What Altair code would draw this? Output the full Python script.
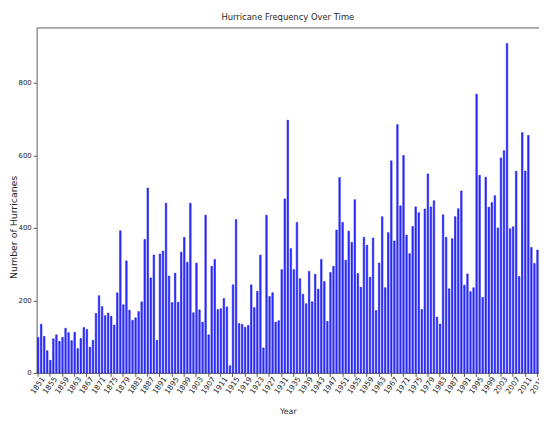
import altair as alt
import pandas as pd

years = list(range(1851, 2016))
counts = [
    98, 134, 101, 61, 35, 94, 105, 87, 98, 123, 111, 89, 112, 67, 95, 125, 120, 71, 90, 164,
    213, 183, 158, 165, 156, 132, 221, 392,
    188, 309, 173, 145, 152, 169, 196, 368, 510, 262, 325, 90, 328, 336, 468, 267, 194, 275,
    195, 333, 374, 305, 468, 166, 303, 174, 140, 435,
    105, 294, 313, 175, 177, 205, 182, 20, 243, 423, 136, 134, 126, 131, 243, 180, 225, 325,
    69, 435, 211, 221, 140, 144, 285, 480, 697,
    343, 285, 415, 260, 217, 191, 280, 196, 272, 231, 313, 252, 142, 277, 294, 394, 539, 415,
    311, 391, 360, 478, 274, 236, 374, 352, 264, 372,
    172, 303, 431, 235, 387, 585, 364, 685, 461, 600, 380, 329, 404, 458, 442, 175, 452, 549,
    458, 475, 154, 135, 436, 374, 232, 370, 431, 453,
    502, 242, 273, 224, 235, 769, 545, 208, 540, 457, 470, 489, 400, 593, 613, 909, 398, 403,
    556, 266, 663, 557, 655, 346, 302, 339,
]
tick_years = list(range(1851, 2016, 4))
y_ticks = [0, 200, 400, 600, 800]

df = pd.DataFrame({"Year": years, "Hurricanes": counts})

text_color = "#262626"
frame_color = "#5a5a5a"

chart = alt.Chart(df).mark_bar(
    fill="#3535ff", stroke="#0000e8", strokeWidth=0.5
).encode(
    x=alt.X(
        "Year:O",
        sort="ascending",
        scale=alt.Scale(paddingInner=0.5, paddingOuter=0.25),
        axis=alt.Axis(
            values=tick_years,
            labelAngle=-55,
            labelAlign="center",
            labelBaseline="middle",
            labelPadding=9,
            labelFontSize=7.5,
            labelColor=text_color,
            labelOverlap=False,
            tickSize=3.5,
            tickColor=frame_color,
            domain=False,
            title="Year",
            titleFontSize=8,
            titleFontWeight="normal",
            titleColor=text_color,
            titleY=39,
            titleBaseline="middle",
        ),
    ),
    y=alt.Y(
        "Hurricanes:Q",
        scale=alt.Scale(domain=[0, 953], nice=False, zero=True),
        axis=alt.Axis(
            values=y_ticks,
            grid=False,
            domain=False,
            tickSize=3.5,
            tickColor=frame_color,
            labelFontSize=7,
            labelColor=text_color,
            labelPadding=2,
            title="Number of Hurricanes",
            titleFontSize=9.5,
            titleFontWeight="normal",
            titleColor=text_color,
            titleX=-23,
            titleY=202,
            titleAlign="center",
            titleBaseline="middle",
        ),
    ),
).properties(
    width=509,
    height=350,
    title=alt.TitleParams(
        text="Hurricane Frequency Over Time",
        fontSize=8.5,
        fontWeight="normal",
        color=text_color,
        offset=6,
        anchor="middle",
    ),
    autosize=alt.AutoSizeParams(type="none"),
    padding={"left": 29, "top": 17, "right": 0, "bottom": 44},
).configure(
    font="DejaVu Sans"
).configure_view(
    stroke=frame_color, strokeWidth=1
)

chart.save("out.html", embed_options={"renderer": "svg", "actions": False})
